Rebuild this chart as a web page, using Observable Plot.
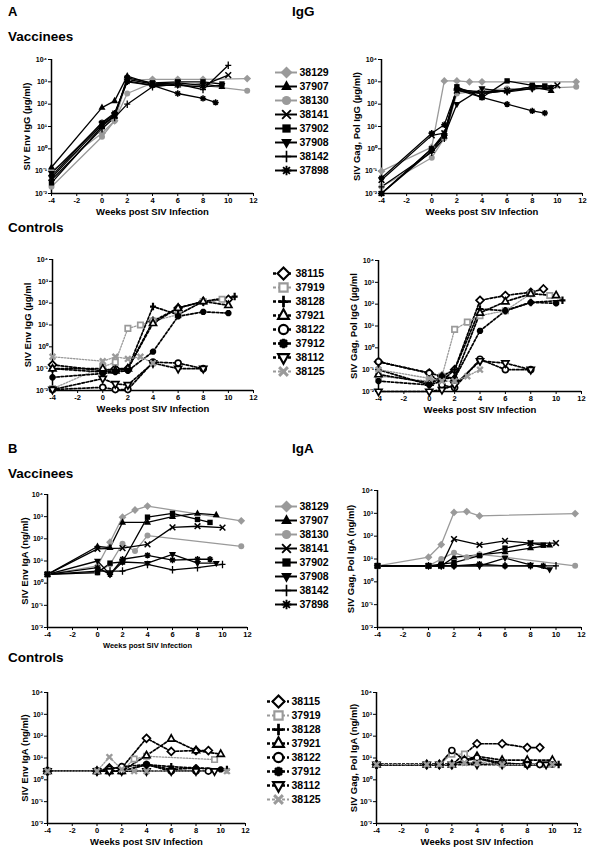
<!DOCTYPE html>
<html><head><meta charset="utf-8">
<script src="https://cdn.jsdelivr.net/npm/d3@7"></script>
<script src="https://cdn.jsdelivr.net/npm/@observablehq/plot@0.6"></script>
<style>
body{margin:0;background:#fff;}
#root{position:relative;width:593px;height:848px;font-family:"Liberation Sans",Arial,sans-serif;font-weight:bold;color:#000;overflow:hidden;background:#fff}
.h{position:absolute;font-size:13.5px;font-weight:bold;white-space:nowrap;line-height:1}
#root svg{position:absolute;overflow:visible}
</style></head><body><div id="root"></div>
<script>
// ---------- data ----------
const vaccinees = ["38129","37907","38130","38141","37902","37908","38142","37898"];
const controls  = ["38115","37919","38128","37921","38122","37912","38112","38125"];
const xTicks = [-4,-2,0,2,4,6,8,10,12];
const yTicks = [0.01,0.1,1,10,100,1000,10000];

const igGEnvVac = [
  ["38129",[-4,0,1,2,4,6,8,11.5],[0.1,5,18,1200,1300,1300,1300,1400]],
  ["37907",[-4,0,1,2,4,6,8,9.5],[0.15,70,140,1800,800,700,800,600]],
  ["38130",[-4,0,1,2,4,6,8,11.5],[0.02,3.5,18,300,900,800,700,400]],
  ["38141",[-4,0,1,2,4,6,8,10],[0.05,12,30,1300,800,900,700,2000]],
  ["37902",[-4,0,1,2,4,6,8,9.5],[0.03,10,30,1500,900,1000,1000,800]],
  ["37908",[-4,0,1,2,4,6,8,9.5],[0.08,14,35,1100,700,700,600,700]],
  ["38142",[-4,0,1,2,4,6,8,10],[0.04,8,25,100,600,800,450,5500]],
  ["37898",[-4,0,1,2,4,6,8,9],[0.06,15,40,1000,700,300,180,120]]
];
const igGGagVac = [
  ["38129",[-4,0,1,2,3,4,11.5],[0.1,1.2,1100,1100,1000,1000,1000]],
  ["37907",[-4,0,1,2,4,6,8,9.5],[0.01,1,5,500,300,400,600,400]],
  ["38130",[-4,0,1,2,4,6,8,11.5],[0.02,0.4,3,300,400,500,500,600]],
  ["38141",[-4,0,1,2,4,6,8,10],[0.04,4,5,400,300,400,600,700]],
  ["37902",[-4,0,1,2,4,6,8,9],[0.01,1,4,600,200,1100,700,650]],
  ["37908",[-4,0,1,2,4,6,8,9.5],[0.01,0.8,4,100,500,350,500,550]],
  ["38142",[-4,0,1,2,4,6,8,9.5],[0.02,0.7,3,450,350,400,500,500]],
  ["37898",[-4,0,1,2,4,6,8,9],[0.05,5,12,450,200,100,50,40]]
];
const igGEnvCtrl = [
  ["38115",[-4,0,1,2,4,6,8,10],[0.15,0.08,0.1,0.1,15,60,120,150]],
  ["37919",[-4,0,1,2,3,4,6,8,9.5],[0.012,0.12,0.2,7,10,15,30,120,150]],
  ["38128",[-4,0,1,2,4,6,8,10.5],[0.1,0.07,0.08,0.1,70,30,120,200]],
  ["37921",[-4,0,1,2,4,6,8,10],[0.1,0.1,0.08,0.1,12,60,120,80]],
  ["38122",[-4,0,1,2,4,6,8],[0.011,0.014,0.011,0.011,0.2,0.18,0.1]],
  ["37912",[-4,0,1,2,4,6,8,10],[0.04,0.06,0.07,0.08,0.6,25,40,35]],
  ["38112",[-4,0,1,2,4,6,8],[0.011,0.035,0.02,0.018,0.18,0.1,0.1]],
  ["38125",[-4,0,1,2,3,4],[0.35,0.22,0.35,0.28,0.35,0.18]]
];
const igGGagCtrl = [
  ["38115",[-4,0,1,2,4,6,8,9],[0.23,0.07,0.05,0.1,150,250,350,500]],
  ["37919",[-4,0,1,2,3,4,6,8,9.5],[0.05,0.03,0.05,7,15,30,50,300,250]],
  ["38128",[-4,0,1,2,4,6,8,10.5],[0.1,0.02,0.03,0.1,60,50,120,150]],
  ["37921",[-4,0,1,2,4,6,8,10],[0.06,0.025,0.04,0.04,40,130,300,250]],
  ["38122",[-4,0,1,2,4,6,8],[0.23,0.07,0.02,0.015,0.3,0.1,0.1]],
  ["37912",[-4,0,1,2,4,6,8,10],[0.03,0.02,0.05,0.04,6,50,120,110]],
  ["38112",[-4,0,1,2,4,6,8],[0.01,0.01,0.012,0.02,0.25,0.2,0.1]],
  ["38125",[-4,0,1,2,3,4],[0.1,0.04,0.03,0.03,0.05,0.1]]
];
const igAEnvVac = [
  ["38129",[-4,0,1,2,3,4,11.5],[2.5,6,70,950,2000,3000,650]],
  ["37907",[-4,0,1,2,4,6,8,9.5],[2.5,45,40,550,550,1000,1400,1200]],
  ["38130",[-4,0,1,2,3,4,11.5],[2.5,3,7,60,28,140,46]],
  ["38141",[-4,0,2,4,6,8,10],[2.5,35,38,56,330,370,320]],
  ["37902",[-4,0,1,2,4,6,8,9],[2.5,3,8,9,950,1400,750,550]],
  ["37908",[-4,0,1,2,4,6,8,9.5],[2.5,10,2.5,9,8,20,8,8]],
  ["38142",[-4,0,1,2,4,6,8,10],[2.5,3.5,3.5,3.5,7,4,5,7]],
  ["37898",[-4,0,1,2,4,6,8,9],[2.5,5,2.5,12,18,11,12,12]]
];
const igAGagVac = [
  ["38129",[-4,0,1,2,3,4,11.5],[5,12,43,1100,1200,770,980]],
  ["37907",[-4,0,1,2,4,6,8,9.5],[5,5,5,12,15,20,30,40]],
  ["38130",[-4,0,1,2,3,4,6,11.5],[5,5,10,19,12,16,12,5]],
  ["38141",[-4,0,1,2,4,6,8,10],[5,5,5,75,42,62,50,50]],
  ["37902",[-4,0,1,2,4,6,8,9],[5,5,6,7,14,30,50,40]],
  ["37908",[-4,0,1,2,4,6,8,9.5],[5,5,5,5,5,11,5.5,3.5]],
  ["38142",[-4,0,1,2,4,6,8,10],[5,5,5,5,5,5,5,5]],
  ["37898",[-4,0,1,2,4,6,8,9],[5,5,5,5,6,5,5,5]]
];
const igAEnvCtrl = [
  ["38115",[-4,0,1,2,4,6,8,9],[2.5,2.5,3.5,3.5,80,20,22,22]],
  ["37919",[-4,0,1,2,3,4,9.5],[2.5,2.5,2.5,2.5,9,12,8.5]],
  ["38128",[-4,0,1,2,4,6,8,10.5],[2.5,2.5,2.5,2.5,5,4,3.5,3]],
  ["37921",[-4,0,1,2,4,6,8,10],[2.5,2.5,2.5,2.5,13,75,22,15]],
  ["38122",[-4,0,1,2,4,6,8,9],[2.5,2.5,3,4,5,2.5,2.5,2.5]],
  ["37912",[-4,0,1,2,4,6,8,10],[2.5,2.5,2.5,2.5,5,3,3.5,3]],
  ["38112",[-4,0,1,2,4,6,8,9.5],[2.5,2.5,2.5,2.5,2.5,2.5,2.5,2.5]],
  ["38125",[-4,0,1,2,3,4,10.5],[2.5,2.5,11,3,2.5,2.5,2.5]]
];
const igAGagCtrl = [
  ["38115",[-4,0,1,2,4,6,8,9],[5,5,5,5,45,45,30,30]],
  ["37919",[-4,0,1,2,3,4,6,8,9.5],[5,5,5,15,15,8,6,5,5]],
  ["38128",[-4,0,1,2,4,6,8,10.5],[5,5,5,5,10,5,5,5]],
  ["37921",[-4,0,1,2,3,4,6,8,10],[5,5,5,5,8,12,8,8,8]],
  ["38122",[-4,0,1,2,3,4,6,8,9],[5,5,5,22,8,10,6,5,5]],
  ["37912",[-4,0,1,2,4,6,8,10],[5,5,5,5,6,5,5,5]],
  ["38112",[-4,0,1,2,4,6,8,9.5],[5,5,5,5,5,5,5,5]],
  ["38125",[-4,0,1,2,3,4,6,10],[5,5,5,5,6,6,5,5]]
];

// ---------- symbols ----------
const rad = s => Math.sqrt(s / Math.PI);
const SYM = {
  diamond:{draw(c,s){const r=rad(s)*1.3;c.moveTo(0,-r);c.lineTo(r,0);c.lineTo(0,r);c.lineTo(-r,0);c.closePath();}},
  triUp:{draw(c,s){const r=rad(s)*1.35;c.moveTo(0,-r);c.lineTo(r*0.87,r*0.55);c.lineTo(-r*0.87,r*0.55);c.closePath();}},
  triDown:{draw(c,s){const r=rad(s)*1.35;c.moveTo(0,r);c.lineTo(r*0.87,-r*0.55);c.lineTo(-r*0.87,-r*0.55);c.closePath();}},
  circle:{draw(c,s){const r=rad(s);c.moveTo(r,0);c.arc(0,0,r,0,2*Math.PI);c.closePath();}},
  square:{draw(c,s){const a=rad(s)*0.9;c.moveTo(-a,-a);c.lineTo(a,-a);c.lineTo(a,a);c.lineTo(-a,a);c.closePath();}},
  times:{draw(c,s){const a=rad(s)*0.95;c.moveTo(-a,-a);c.lineTo(a,a);c.moveTo(-a,a);c.lineTo(a,-a);}},
  plus:{draw(c,s){const a=rad(s)*1.25;c.moveTo(0,-a);c.lineTo(0,a);c.moveTo(-a*0.8,0);c.lineTo(a*0.8,0);}},
  aster:{draw(c,s){const a=rad(s)*1.05;for(let k=0;k<4;k++){const t=k*Math.PI/4;c.moveTo(-a*Math.cos(t),-a*Math.sin(t));c.lineTo(a*Math.cos(t),a*Math.sin(t));}}}
};
const GREY = "#9a9a9a";
const vacStyle = {
  "38129":{line:GREY,lw:1.3,sym:SYM.diamond,fill:GREY,stroke:"none",sw:0},
  "37907":{line:"#000",lw:1.3,sym:SYM.triUp,fill:"#000",stroke:"none",sw:0},
  "38130":{line:GREY,lw:1.3,sym:SYM.circle,fill:GREY,stroke:"none",sw:0},
  "38141":{line:"#000",lw:1.3,sym:SYM.times,fill:"none",stroke:"#000",sw:1.5},
  "37902":{line:"#000",lw:1.3,sym:SYM.square,fill:"#000",stroke:"none",sw:0},
  "37908":{line:"#000",lw:1.3,sym:SYM.triDown,fill:"#000",stroke:"none",sw:0},
  "38142":{line:"#000",lw:1.3,sym:SYM.plus,fill:"none",stroke:"#000",sw:1.3},
  "37898":{line:"#000",lw:1.3,sym:SYM.aster,fill:"none",stroke:"#000",sw:1.5}
};
const ctrlStyle = {
  "38115":{line:"#000",lw:1.7,dash:"2.5,1.8",sym:SYM.diamond,fill:"#fff",stroke:"#000",sw:1.7},
  "37919":{line:GREY,lw:1.3,dash:"1.5,1.5",sym:SYM.square,fill:"#fff",stroke:GREY,sw:1.7},
  "38128":{line:"#000",lw:1.7,dash:"2.5,1.8",sym:SYM.plus,fill:"none",stroke:"#000",sw:2.2},
  "37921":{line:"#000",lw:1.7,dash:"2.5,1.8",sym:SYM.triUp,fill:"#fff",stroke:"#000",sw:1.7},
  "38122":{line:"#000",lw:1.7,dash:"2.5,1.8",sym:SYM.circle,fill:"#fff",stroke:"#000",sw:1.7},
  "37912":{line:"#000",lw:1.7,dash:"2.5,1.8",sym:SYM.aster,fill:"none",stroke:"#000",sw:2.3},
  "38112":{line:"#000",lw:1.7,dash:"2.5,1.8",sym:SYM.triDown,fill:"#fff",stroke:"#000",sw:1.7},
  "38125":{line:GREY,lw:1.3,dash:"1.5,1.5",sym:SYM.times,fill:"none",stroke:GREY,sw:2.4}
};

const supMap = {"-":"⁻","0":"⁰","1":"¹","2":"²","3":"³","4":"⁴"};
const fmtPow = d => "10" + String(Math.round(Math.log10(d))).split("").map(c => supMap[c]).join("");
const root = document.getElementById("root");
const FONT = "'Liberation Sans', Arial, sans-serif";

function drawPanel(series, styles, cfg) {
  const ML = 44, MR = 12, MT = 6, MB = 28;
  const W = cfg.x12 - cfg.xm4 + ML + MR, H = cfg.ybot - cfg.ytop + MT + MB;
  const marks = [
    Plot.ruleX([-4], {strokeWidth: 1.5}),
    Plot.ruleY([0.01], {strokeWidth: 1.5}),
    Plot.axisX(xTicks, {tickSize: 3, tickPadding: 1, tickFormat: d => String(d), fontSize: 7.5, label: null}),
    Plot.axisY(yTicks, {tickSize: 3, tickPadding: 1.5, tickFormat: fmtPow, fontSize: 7, label: null})
  ];
  const rows = series.map(([id, wk, val]) => [id, wk.map((w, i) => ({w, v: val[i]}))]);
  for (const [id, pts] of rows) {
    const s = styles[id];
    marks.push(Plot.line(pts, {x: "w", y: "v", stroke: s.line, strokeWidth: s.lw, strokeDasharray: s.dash}));
  }
  for (const [id, pts] of rows) {
    const s = styles[id];
    marks.push(Plot.dot(pts, {x: "w", y: "v", symbol: s.sym, r: cfg.r || 3, fill: s.fill, stroke: s.stroke, strokeWidth: s.sw}));
  }
  if (cfg.xlabel) marks.push(Plot.text([cfg.xlabel], {frameAnchor: "bottom", textAnchor: "middle", dy: cfg.xdy || 21, lineAnchor: "bottom", fontSize: cfg.xfs || 9.5, fontWeight: "bold"}));
  marks.push(Plot.text([cfg.ylabel], {frameAnchor: "left", textAnchor: "middle", lineAnchor: "middle", dx: cfg.ydx, rotate: -90, fontSize: 9.5, fontWeight: "bold"}));
  const svg = Plot.plot({
    width: W, height: H, marginLeft: ML, marginRight: MR, marginTop: MT, marginBottom: MB,
    x: {domain: [-4, 12]},
    y: {type: "log", domain: [0.01, 10000]},
    style: {fontFamily: FONT, fontWeight: "bold", background: "transparent", color: "#000", overflow: "visible"},
    marks
  });
  svg.style.left = (cfg.xm4 - ML) + "px";
  svg.style.top = (cfg.ytop - MT) + "px";
  root.appendChild(svg);
}

function drawLegend(ids, styles, cfg) {
  const H = cfg.y1 - cfg.y0 + 20, L = cfg.len;
  const marks = [];
  for (const id of ids) {
    const s = styles[id];
    marks.push(Plot.ruleY([id], {x1: 0, x2: L, stroke: s.line, strokeWidth: s.lw * 1.5, strokeDasharray: s.dash ? "3,2" : null}));
  }
  for (const id of ids) {
    const s = styles[id];
    marks.push(Plot.dot([id], {x: L / 2, y: d => d, symbol: s.sym, r: 4.6, fill: s.fill, stroke: s.stroke, strokeWidth: s.sw ? s.sw * 1.25 : 0}));
  }
  marks.push(Plot.text(ids, {x: L + 2, y: d => d, text: d => d, textAnchor: "start", fontSize: 10.5, fontWeight: "bold"}));
  const svg = Plot.plot({
    width: 80, height: H, margin: 0,
    x: {domain: [0, 80], range: [0, 80]},
    y: {type: "point", domain: ids, range: [10, H - 10]},
    axis: null,
    style: {fontFamily: FONT, fontWeight: "bold", background: "transparent", color: "#000", overflow: "visible"},
    marks
  });
  svg.style.left = cfg.left + "px";
  svg.style.top = (cfg.y0 - 10) + "px";
  root.appendChild(svg);
}

function heading(text, left, top, size) {
  const d = document.createElement("div");
  d.className = "h"; d.textContent = text;
  d.style.left = left + "px"; d.style.top = top + "px";
  if (size) d.style.fontSize = size + "px";
  root.appendChild(d);
}

heading("A", 8, 5, 13);
heading("IgG", 292, 5);
heading("Vaccinees", 8, 30);
heading("Controls", 8, 221);
heading("B", 8, 442, 13);
heading("IgA", 292, 442);
heading("Vaccinees", 8, 467);
heading("Controls", 8, 651);

const WK = "Weeks post SIV Infection";
drawPanel(igGEnvVac, vacStyle, {xm4: 51, x12: 253, ytop: 59, ybot: 193, xlabel: WK, ylabel: "SIV Env IgG (µg/ml)", ydx: -25});
drawPanel(igGGagVac, vacStyle, {xm4: 381, x12: 582, ytop: 59, ybot: 193, xlabel: WK, ylabel: "SIV Gag, Pol IgG (µg/ml)", ydx: -25});
drawPanel(igGEnvCtrl, ctrlStyle, {xm4: 52, x12: 253, ytop: 259, ybot: 390, xlabel: WK, ylabel: "SIV Env IgG (µg/ml", ydx: -25});
drawPanel(igGGagCtrl, ctrlStyle, {xm4: 378, x12: 581, ytop: 260, ybot: 391, xlabel: WK, ylabel: "SIV Gag, Pol IgG (µg/ml", ydx: -25});
drawPanel(igAEnvVac, vacStyle, {xm4: 47, x12: 247, ytop: 494, ybot: 627, xlabel: WK, xfs: 7.5, xdy: 20, ylabel: "SIV Env IgA (ng/ml)", ydx: -23});
drawPanel(igAGagVac, vacStyle, {xm4: 377, x12: 581, ytop: 490, ybot: 627, ylabel: "SIV Gag, Pol IgA (ng/ml)", ydx: -27});
drawPanel(igAEnvCtrl, ctrlStyle, {xm4: 47, x12: 245, ytop: 692, ybot: 823, xlabel: WK, ylabel: "SIV Env IgA (ng/ml)", ydx: -23});
drawPanel(igAGagCtrl, ctrlStyle, {xm4: 376, x12: 577, ytop: 692, ybot: 823, xlabel: WK, ylabel: "SIV Gag, Pol IgA (ng/ml)", ydx: -23});

drawLegend(vaccinees, vacStyle, {left: 275, y0: 62, y1: 179, len: 22});
drawLegend(controls, ctrlStyle, {left: 273, y0: 263, y1: 380, len: 20});
drawLegend(vaccinees, vacStyle, {left: 275, y0: 497, y1: 613, len: 22});
drawLegend(controls, ctrlStyle, {left: 267, y0: 693, y1: 807, len: 22});
</script></body></html>
